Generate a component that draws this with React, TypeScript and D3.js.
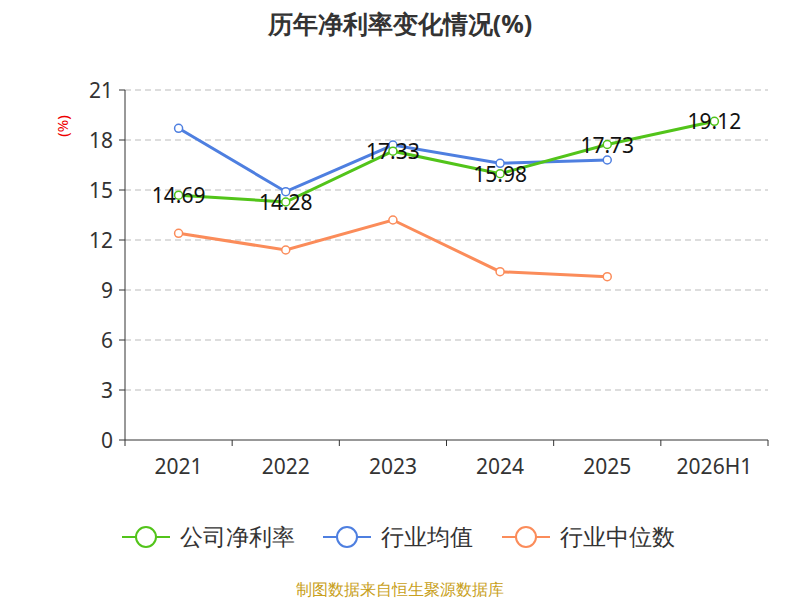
import * as React from 'react';
import * as d3 from 'd3';

const categories = ['2021', '2022', '2023', '2024', '2025', '2026H1'];
const companyRate = [14.69, 14.28, 17.33, 15.98, 17.73, 19.12];
const industryAvg = [18.7, 14.9, 17.7, 16.6, 16.8];
const industryMedian = [12.4, 11.4, 13.2, 10.1, 9.8];
const yTicks = [0, 3, 6, 9, 12, 15, 18, 21];

const series = [
  { name: '公司净利率', color: '#52c41a', values: companyRate },
  { name: '行业均值', color: '#4e7fe0', values: industryAvg },
  { name: '行业中位数', color: '#fb8c5a', values: industryMedian },
];

export default function App() {
  const left = 125, right = 768, top = 90, bottom = 440;
  const x = d3.scaleBand().domain(categories).range([left, right]);
  const y = d3.scaleLinear().domain([0, 21]).range([bottom, top]);
  const cx = (i: number) => (x(categories[i]) as number) + x.bandwidth() / 2;
  const line = d3.line<number>().x((_, i) => cx(i)).y(d => y(d));
  const font = '"Noto Sans", sans-serif';

  return (
    <svg width={800} height={600} style={{ position: 'absolute', left: 0, top: 0 }} fontFamily={font}>
      <rect width={800} height={600} fill="#fff" />
      <text x={400} y={33} textAnchor="middle" fontSize={25} fontWeight="bold" fill="#333">历年净利率变化情况(%)</text>
      <text transform="translate(68,126) rotate(-90)" textAnchor="middle" fontSize={15} fill="#e00">(%)</text>
      {yTicks.map(t => (
        <g key={t}>
          {t > 0 && <line x1={left} x2={right} y1={y(t)} y2={y(t)} stroke="#bbb" strokeDasharray="6,4" />}
          <line x1={left - 6} x2={left} y1={y(t)} y2={y(t)} stroke="#333" />
          <text x={left - 12} y={y(t) + 8} textAnchor="end" fontSize={21} fill="#333">{t}</text>
        </g>
      ))}
      <line x1={left} x2={left} y1={top} y2={bottom} stroke="#333" />
      <line x1={left} x2={right} y1={bottom} y2={bottom} stroke="#333" />
      {categories.map((c, i) => (
        <g key={c}>
          <line x1={x(c) as number} x2={x(c) as number} y1={bottom} y2={bottom + 6} stroke="#333" />
          <text x={cx(i)} y={bottom + 34} textAnchor="middle" fontSize={21} fill="#333">{c}</text>
        </g>
      ))}
      <line x1={right} x2={right} y1={bottom} y2={bottom + 6} stroke="#333" />
      {[...series].reverse().map(s => (
        <g key={s.name}>
          <path d={line(s.values) as string} fill="none" stroke={s.color} strokeWidth={3} />
          {s.values.map((v, i) => (
            <circle key={i} cx={cx(i)} cy={y(v)} r={4} fill="#fff" stroke={s.color} strokeWidth={1.5} />
          ))}
        </g>
      ))}
      {companyRate.map((v, i) => (
        <text key={i} x={cx(i)} y={y(v) + 8} textAnchor="middle" fontSize={21} fill="#111">{v.toFixed(2)}</text>
      ))}
      {series.map((s, i) => {
        const lx = [122, 323, 502][i];
        return (
          <g key={s.name}>
            <line x1={lx} x2={lx + 48} y1={537} y2={537} stroke={s.color} strokeWidth={2} />
            <circle cx={lx + 24} cy={537} r={10} fill="#fff" stroke={s.color} strokeWidth={2} />
            <text x={lx + 58} y={545} fontSize={23} fill="#333">{s.name}</text>
          </g>
        );
      })}
      <text x={400} y={595} textAnchor="middle" fontSize={16} fill="#c8a020">制图数据来自恒生聚源数据库</text>
    </svg>
  );
}
